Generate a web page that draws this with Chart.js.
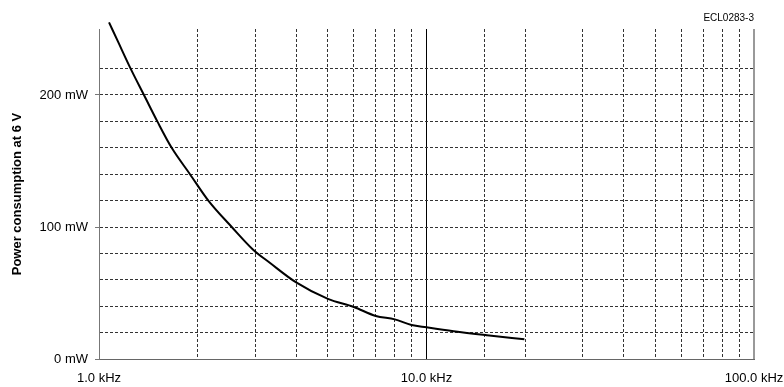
<!DOCTYPE html>
<html>
<head>
<meta charset="utf-8">
<script src="https://cdn.jsdelivr.net/npm/chart.js@4/dist/chart.umd.min.js"></script>
<style>
  html, body { margin: 0; padding: 0; background: #fff; }
  #wrap { width: 784px; height: 387px; position: relative; }
</style>
</head>
<body>
<div id="wrap"><canvas id="c" width="784" height="387"></canvas></div>
<script>
// Frequency in kHz and power consumption in mW
const freqKHz = [1.073, 1.145, 1.249, 1.372, 1.507, 1.667, 1.896, 2.157, 2.543, 2.95, 3.33, 4, 5, 6, 7, 8, 9, 10, 12.1, 15.3, 19.9];
const powerMW = [255, 240, 220, 200, 180, 160, 140, 120, 100, 83, 72.7, 58, 45.5, 39.4, 32.6, 30, 25.8, 24, 21, 18, 15];

// Axis tick labels
const xLabelValues = [1, 10, 100];
const yLabelValues = [0, 100, 200];
const yTitle = 'Power consumption at 6 V';
const chartCode = 'ECL0283-3';

const FONT = 'Liberation Sans, Arial, sans-serif';

const points = freqKHz.map((f, i) => ({ x: f, y: powerMW[i] }));

new Chart(document.getElementById('c'), {
  type: 'line',
  data: {
    datasets: [{
      data: points,
      borderColor: '#000',
      borderWidth: 2,
      pointRadius: 0,
      cubicInterpolationMode: 'monotone',
      fill: false,
      clip: false
    }]
  },
  options: {
    responsive: false,
    animation: false,
    layout: { padding: { left: 0, right: 30, top: 0, bottom: 0 } },
    plugins: {
      legend: { display: false },
      tooltip: { enabled: false },
      title: {
        display: true,
        text: chartCode,
        align: 'end',
        color: '#000',
        font: { family: FONT, size: 10, weight: 'normal' },
        padding: { top: 12, bottom: 5 }
      }
    },
    scales: {
      x: {
        type: 'logarithmic',
        min: 1,
        max: 100,
        border: {
          display: true,
          color: '#666',
          width: 1,
          dash: (c) => (c.tick && c.tick.value !== 10 && c.tick.value !== 1 && c.tick.value !== 100) ? [3, 2] : []
        },
        grid: {
          drawTicks: false,
          color: (c) => {
            const v = c.tick ? c.tick.value : null;
            if (v === 10) return '#000';
            if (v === 100) return '#999';
            if (v === 1) return '#777';
            return '#333';
          },
          lineWidth: (c) => (c.tick && c.tick.value === 100) ? 2 : 1
        },
        ticks: {
          autoSkip: false,
          maxRotation: 0,
          minRotation: 0,
          padding: 12,
          color: '#000',
          font: { family: FONT, size: 13 },
          callback: (v) => xLabelValues.includes(v) ? Number(v).toFixed(1) + ' kHz' : ''
        },
        afterFit: (s) => { s.height = 28; s.paddingLeft = 0; s.paddingRight = 0; }
      },
      y: {
        type: 'linear',
        min: 0,
        max: 250,
        border: {
          display: true,
          color: '#777',
          width: 1,
          dash: (c) => (c.tick && c.tick.value !== 0) ? [3, 2] : []
        },
        grid: {
          drawTicks: true,
          tickLength: 4,
          tickColor: (c) => (c.tick && yLabelValues.includes(c.tick.value)) ? '#777' : 'rgba(0,0,0,0)',
          color: (c) => {
            const v = c.tick ? c.tick.value : null;
            if (v === 250) return 'rgba(0,0,0,0)';
            if (v === 0) return '#666';
            return '#333';
          }
        },
        ticks: {
          stepSize: 20,
          autoSkip: false,
          padding: 7,
          color: '#000',
          font: { family: FONT, size: 13 },
          callback: (v) => yLabelValues.includes(v) ? v + ' mW' : ''
        },
        title: {
          display: true,
          text: yTitle,
          color: '#000',
          font: { family: FONT, size: 13, weight: 'bold' },
          padding: { top: 10, bottom: 0 }
        },
        afterFit: (s) => { s.width = 99; s.paddingTop = 0; s.paddingBottom = 0; }
      }
    }
  },
  plugins: [{
    id: 'whiteBg',
    beforeDraw: (chart) => {
      const ctx = chart.ctx;
      ctx.save();
      ctx.fillStyle = '#fff';
      ctx.fillRect(0, 0, chart.width, chart.height);
      ctx.restore();
    }
  }]
});
</script>
</body>
</html>
